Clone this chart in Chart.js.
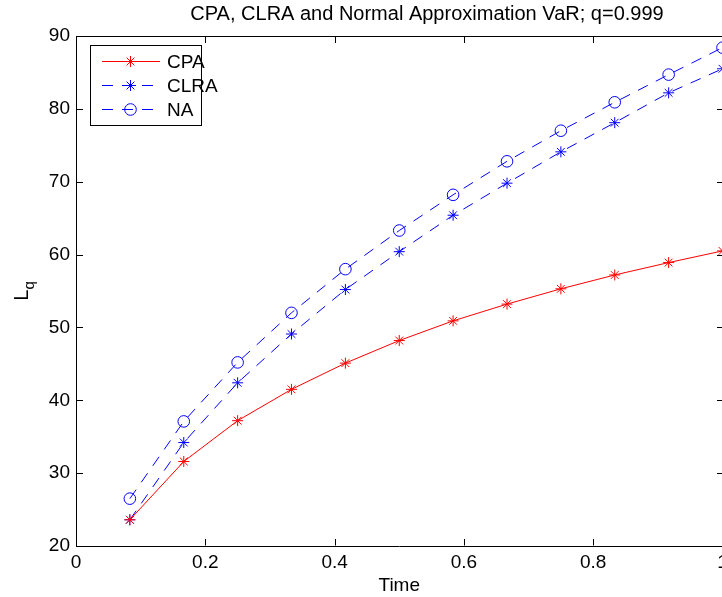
<!DOCTYPE html>
<html>
<head>
<meta charset="utf-8">
<title>CPA, CLRA and Normal Approximation VaR</title>
<style>
  html, body { margin: 0; padding: 0; background: #fff; overflow: hidden; }
  #wrap { width: 722px; height: 597px; overflow: hidden; }
</style>
</head>
<body>
<div id="wrap"><canvas id="varChart" width="760" height="597"></canvas></div>

<script src="https://cdn.jsdelivr.net/npm/chart.js"></script>
<script>
// Time points (years) and quantile loss values
const times = [0.0833, 0.1667, 0.25, 0.3333, 0.4167, 0.5, 0.5833, 0.6667, 0.75, 0.8333, 0.9167, 1.0];
const cpa  = [23.6, 31.6, 37.2, 41.5, 45.1, 48.2, 50.9, 53.2, 55.3, 57.2, 58.9, 60.5];
const clra = [23.6, 34.2, 42.4, 49.1, 55.2, 60.4, 65.4, 69.8, 74.1, 78.1, 82.2, 85.5];
const na   = [26.5, 37.1, 45.2, 52.0, 58.0, 63.3, 68.2, 72.8, 77.0, 80.9, 84.7, 88.4];

const xTicks = [0, 0.2, 0.4, 0.6, 0.8, 1];
const yTicks = [20, 30, 40, 50, 60, 70, 80, 90];

const FONT = '"Liberation Sans", Arial, Helvetica, sans-serif';
const TICK = 6.5;

const toPoints = vals => vals.map((v, i) => ({ x: times[i], y: v }));

// MATLAB-ish box: top/right edges, inward ticks, legend, titles
const matlabBox = {
    id: 'matlabBox',
    afterDraw(chart) {
        const { ctx, chartArea: a, scales: { x, y } } = chart;
        const L = Math.round(a.left) + 0.5, R = Math.round(a.right) + 0.5;
        const T = Math.round(a.top) + 0.5, B = Math.round(a.bottom) - 0.5;
        ctx.save();
        ctx.strokeStyle = '#000';
        ctx.lineWidth = 1;
        ctx.beginPath();
        ctx.moveTo(L, T); ctx.lineTo(R, T); ctx.lineTo(R, B);
        x.ticks.forEach(t => {
            const px = Math.round(x.getPixelForValue(t.value)) + 0.5;
            ctx.moveTo(px, B); ctx.lineTo(px, B - TICK);
            ctx.moveTo(px, T); ctx.lineTo(px, T + TICK);
        });
        y.ticks.forEach(t => {
            const py = Math.round(y.getPixelForValue(t.value)) + 0.5;
            ctx.moveTo(L, py); ctx.lineTo(L + TICK, py);
            ctx.moveTo(R, py); ctx.lineTo(R - TICK, py);
        });
        ctx.stroke();

        // title
        ctx.fillStyle = '#000';
        ctx.font = '20px ' + FONT;
        ctx.textAlign = 'center';
        ctx.textBaseline = 'alphabetic';
        ctx.fillText('CPA, CLRA and Normal Approximation VaR; q=0.999', 427, 20);

        // y axis title L_q
        ctx.save();
        ctx.translate(28, 291);
        ctx.rotate(-Math.PI / 2);
        ctx.textAlign = 'left';
        ctx.font = '20px ' + FONT;
        const wL = ctx.measureText('L').width;
        ctx.font = '15px ' + FONT;
        const wq = ctx.measureText('q').width;
        const start = -(wL + wq) / 2;
        ctx.font = '20px ' + FONT;
        ctx.fillText('L', start, 0);
        ctx.font = '15px ' + FONT;
        ctx.fillText('q', start + wL, 6);
        ctx.restore();

        // legend
        ctx.fillStyle = '#fff';
        ctx.fillRect(90.5, 45.5, 111, 80);
        ctx.strokeStyle = '#000';
        ctx.strokeRect(90.5, 45.5, 111, 80);
        chart.data.datasets.forEach((ds, i) => {
            const cy = 61.5 + i * 24;
            ctx.save();
            ctx.strokeStyle = ds.borderColor;
            ctx.lineWidth = ds.borderWidth;
            ctx.setLineDash(ds.borderDash || []);
            ctx.beginPath();
            ctx.moveTo(102, cy); ctx.lineTo(160, cy);
            ctx.stroke();
            ctx.setLineDash([]);
            ctx.fillStyle = ds.pointBackgroundColor;
            Chart.helpers.drawPoint(ctx, {
                pointStyle: ds.pointStyle, radius: ds.pointRadius,
                rotation: 0, borderWidth: 1
            }, 130.5, cy);
            ctx.restore();
            ctx.fillStyle = '#000';
            ctx.font = '19px ' + FONT;
            ctx.textAlign = 'left';
            ctx.fillText(ds.label, 167, cy + 6.5);
        });
        ctx.restore();
    }
};

new Chart(document.getElementById('varChart'), {
    type: 'line',
    data: {
        datasets: [
            {
                label: 'CPA',
                data: toPoints(cpa),
                borderColor: '#ff0000',
                backgroundColor: '#ff0000',
                pointBackgroundColor: 'rgba(0,0,0,0)',
                borderWidth: 1,
                pointStyle: 'star',
                pointRadius: 5.5,
                pointBorderWidth: 1,
                tension: 0
            },
            {
                label: 'CLRA',
                data: toPoints(clra),
                borderColor: '#0000ff',
                backgroundColor: '#0000ff',
                pointBackgroundColor: 'rgba(0,0,0,0)',
                borderWidth: 1,
                borderDash: [11, 9],
                pointStyle: 'star',
                pointRadius: 5.5,
                pointBorderWidth: 1,
                tension: 0
            },
            {
                label: 'NA',
                data: toPoints(na),
                borderColor: '#0000ff',
                backgroundColor: '#0000ff',
                pointBackgroundColor: 'rgba(0,0,0,0)',
                borderWidth: 1,
                borderDash: [11, 9],
                pointStyle: 'circle',
                pointRadius: 5.8,
                pointBorderWidth: 1,
                tension: 0
            }
        ]
    },
    options: {
        responsive: false,
        animation: false,
        devicePixelRatio: 1,
        layout: { padding: { top: 36, right: 37.5, bottom: 0, left: 0 } },
        plugins: {
            legend: { display: false },
            title: { display: false },
            tooltip: { enabled: false }
        },
        scales: {
            x: {
                type: 'linear',
                min: 0,
                max: 1,
                afterBuildTicks: s => { s.ticks = xTicks.map(v => ({ value: v })); },
                afterFit: s => { s.height = 51; },
                ticks: {
                    color: '#000',
                    font: { size: 19, family: FONT },
                    padding: 5,
                    maxRotation: 0,
                    autoSkip: false,
                    callback: v => String(v)
                },
                grid: { display: false, drawTicks: false },
                border: { display: true, color: '#000', width: 1 },
                title: {
                    display: true,
                    text: 'Time',
                    color: '#000',
                    font: { size: 19, family: FONT },
                    padding: { top: 0, bottom: 0 }
                }
            },
            y: {
                min: 20,
                max: 90,
                afterBuildTicks: s => { s.ticks = yTicks.map(v => ({ value: v })); },
                afterFit: s => { s.width = 76; },
                ticks: {
                    color: '#000',
                    font: { size: 19, family: FONT },
                    padding: 6,
                    callback: v => String(v)
                },
                grid: { display: false, drawTicks: false },
                border: { display: true, color: '#000', width: 1 }
            }
        }
    },
    plugins: [matlabBox]
});
</script>
</body>
</html>
